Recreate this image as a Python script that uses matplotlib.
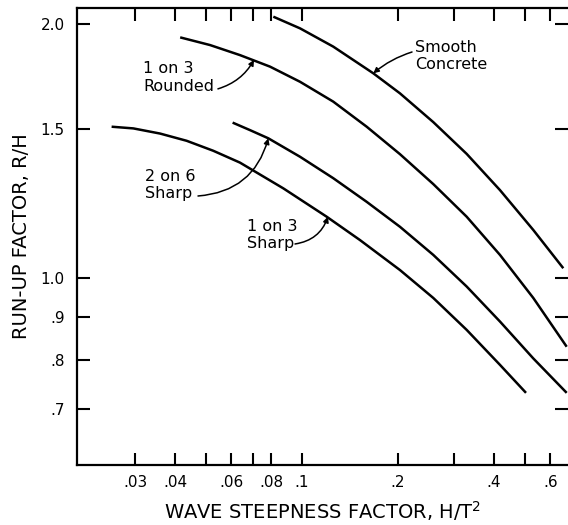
import matplotlib
matplotlib.use("Agg")
import matplotlib.pyplot as plt
from matplotlib.ticker import FixedLocator, NullLocator, NullFormatter

# curves (H/T^2, R/H)
smooth_x = [0.0813, 0.0986, 0.1253, 0.1673, 0.2028, 0.2580, 0.3283, 0.4175, 0.5310, 0.6594]
smooth_y = [2.040, 1.976, 1.880, 1.748, 1.655, 1.530, 1.403, 1.271, 1.140, 1.027]

rounded_x = [0.0415, 0.0515, 0.0639, 0.0794, 0.0986, 0.1253, 0.1595, 0.2028, 0.2580, 0.3283,
             0.4175, 0.5310, 0.6758]
rounded_y = [1.928, 1.888, 1.837, 1.780, 1.708, 1.618, 1.511, 1.402, 1.292, 1.182,
             1.065, 0.947, 0.829]

s26_x = [0.0606, 0.0687, 0.0784, 0.0986, 0.1253, 0.1595, 0.2028, 0.2580, 0.3283, 0.4175,
         0.5310, 0.6758]
s26_y = [1.528, 1.497, 1.464, 1.392, 1.313, 1.231, 1.150, 1.065, 0.977, 0.888,
         0.803, 0.731]

s13_x = [0.0253, 0.0296, 0.0359, 0.0435, 0.0527, 0.0639, 0.0874, 0.1195, 0.1520, 0.2028,
         0.2580, 0.3283, 0.4175, 0.5038]
s13_y = [1.511, 1.504, 1.483, 1.454, 1.415, 1.370, 1.277, 1.182, 1.109, 1.022,
         0.947, 0.868, 0.789, 0.731]

x_major = [0.03, 0.04, 0.06, 0.08, 0.1, 0.2, 0.4, 0.6]
x_labels = [".03", ".04", ".06", ".08", ".1", ".2", ".4", ".6"]
x_minor = [0.05, 0.07, 0.3, 0.5]
y_ticks = [0.7, 0.8, 0.9, 1.0, 1.5, 2.0]
y_labels = [".7", ".8", ".9", "1.0", "1.5", "2.0"]

plt.rcParams['font.family'] = ['DejaVu Sans']

fig = plt.figure(figsize=(5.68, 5.25), dpi=100)
ax = fig.add_axes([0.1356, 0.1143, 0.8644, 0.8705])

for xs, ys in [(smooth_x, smooth_y), (rounded_x, rounded_y), (s26_x, s26_y), (s13_x, s13_y)]:
    ax.plot(xs, ys, color='black', lw=1.8, solid_capstyle='butt', solid_joinstyle='round')

ax.set_xscale('log')
ax.set_yscale('log')
ax.set_xlim(0.01971, 0.6822)
ax.set_ylim(0.6004, 2.089)

ax.xaxis.set_major_locator(FixedLocator(x_major))
ax.set_xticklabels(x_labels)
ax.xaxis.set_minor_locator(FixedLocator(x_minor))
ax.xaxis.set_minor_formatter(NullFormatter())
ax.yaxis.set_major_locator(FixedLocator(y_ticks))
ax.set_yticklabels(y_labels)
ax.yaxis.set_minor_locator(NullLocator())

ax.tick_params(axis='x', which='both', direction='in', top=True, length=9, width=1.5,
               labelsize=11, pad=7)
ax.tick_params(axis='y', which='both', direction='in', right=True, length=9.5, width=1.5,
               labelsize=11, pad=9)
for s in ax.spines.values():
    s.set_linewidth(1.6)
ax.spines['right'].set_visible(False)

ax.set_xlabel("WAVE STEEPNESS FACTOR, H/T$^{2}$", fontsize=14, labelpad=7)
ax.set_ylabel("RUN-UP FACTOR, R/H", fontsize=14, labelpad=7)

tf = dict(fontsize=11.5, ha='left', va='center', linespacing=1.2, transform=ax.transAxes)
ax.text(0.1344, 0.848, "1 on 3\nRounded", **tf)
ax.text(0.1385, 0.6127, "2 on 6\nSharp", **tf)
ax.text(0.3462, 0.5033, "1 on 3\nSharp", **tf)
ax.text(0.6884, 0.895, "Smooth\nConcrete", **tf)

ap = dict(arrowstyle='-|>', color='black', lw=1.1, mutation_scale=8, shrinkA=0, shrinkB=0)
ax.annotate("", xy=(0.0707, 1.813), xycoords='data', xytext=(0.287, 0.823), textcoords='axes fraction',
            arrowprops=dict(ap, connectionstyle='arc3,rad=0.2'))
ax.annotate("", xy=(0.0784, 1.464), xycoords='data', xytext=(0.2464, 0.5886), textcoords='axes fraction',
            arrowprops=dict(ap, connectionstyle='arc3,rad=0.35'))
ax.annotate("", xy=(0.1206, 1.182), xycoords='data', xytext=(0.444, 0.4836), textcoords='axes fraction',
            arrowprops=dict(ap, connectionstyle='arc3,rad=0.3'))
ax.annotate("", xy=(0.1673, 1.748), xycoords='data', xytext=(0.6823, 0.9037), textcoords='axes fraction',
            arrowprops=dict(ap, connectionstyle='arc3,rad=0.1'))

fig.savefig("out.png", dpi=100)
